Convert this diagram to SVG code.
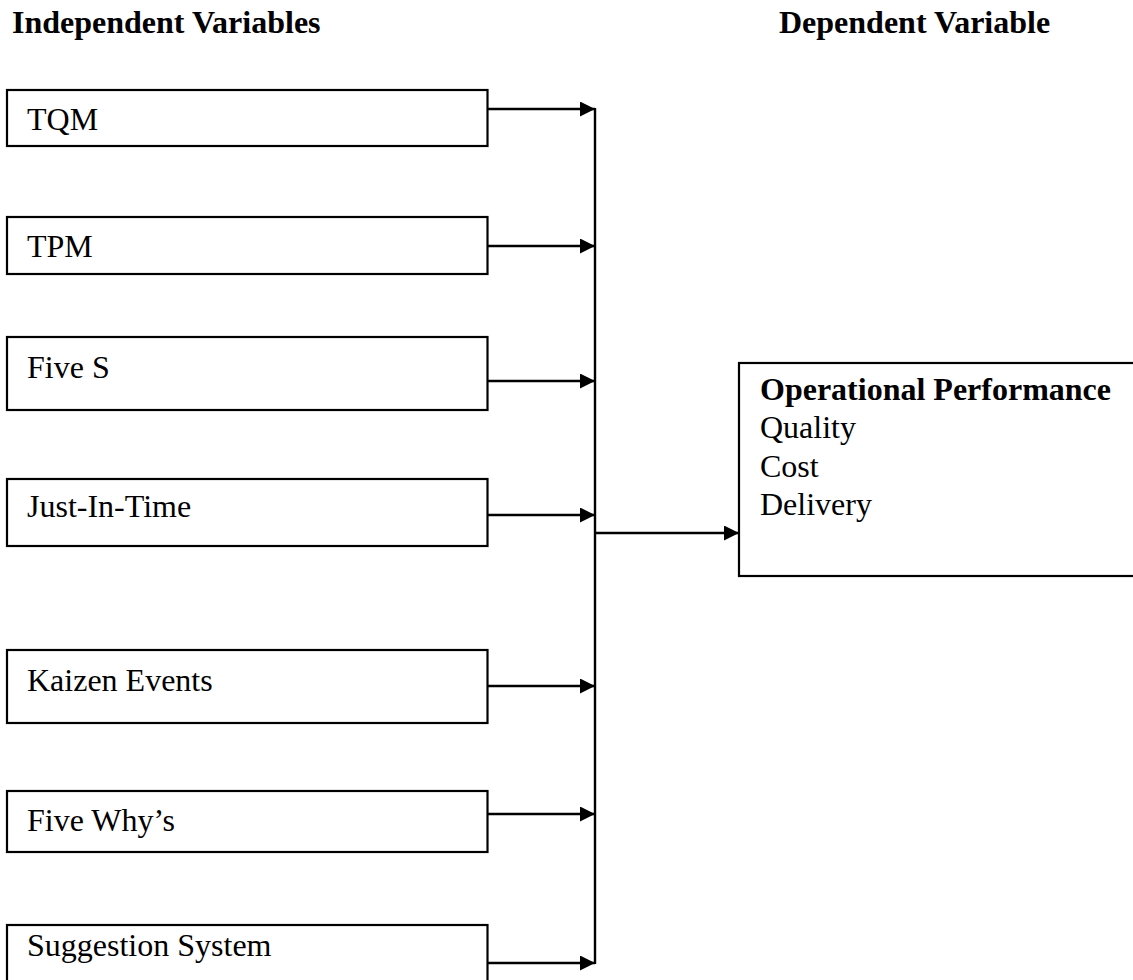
<svg xmlns="http://www.w3.org/2000/svg" width="1133" height="980" viewBox="0 0 1133 980">
  <style>
    .box { fill: #ffffff; stroke: #000000; stroke-width: 2.2; }
    .lbl { font-family: "Liberation Serif", "Times New Roman", serif; font-size: 32px; fill: #000000; }
    .hd { font-family: "Liberation Serif", "Times New Roman", serif; font-size: 32px; font-weight: bold; fill: #000000; }
    .con { stroke: #000000; stroke-width: 2.4; fill: none; }
  </style>
  <defs>
    <marker id="arr" markerUnits="userSpaceOnUse" markerWidth="16" markerHeight="16" refX="15" refY="7.5" orient="auto">
      <path d="M0,0 L15,7.5 L0,15 Z" fill="#000000"/>
    </marker>
  </defs>
  <rect width="1133" height="980" fill="#ffffff"/>

  <text class="hd" x="12" y="33">Independent Variables</text>
  <text class="hd" x="779" y="33">Dependent Variable</text>

  <g id="connectors">
    <line class="con" x1="595" y1="108" x2="595" y2="964"/>
    <line class="con" x1="488" y1="109" x2="595" y2="109" marker-end="url(#arr)"/>
    <line class="con" x1="488" y1="246" x2="595" y2="246" marker-end="url(#arr)"/>
    <line class="con" x1="488" y1="381" x2="595" y2="381" marker-end="url(#arr)"/>
    <line class="con" x1="488" y1="515" x2="595" y2="515" marker-end="url(#arr)"/>
    <line class="con" x1="488" y1="686" x2="595" y2="686" marker-end="url(#arr)"/>
    <line class="con" x1="488" y1="814" x2="595" y2="814" marker-end="url(#arr)"/>
    <line class="con" x1="488" y1="963" x2="595" y2="963" marker-end="url(#arr)"/>
    <line class="con" x1="595" y1="533" x2="739" y2="533" marker-end="url(#arr)"/>
  </g>

  <g id="node-tqm">
    <rect class="box" x="7" y="90" width="480.5" height="56"/>
    <text class="lbl" x="27" y="130">TQM</text>
  </g>
  <g id="node-tpm">
    <rect class="box" x="7" y="217" width="480.5" height="57"/>
    <text class="lbl" x="27" y="257">TPM</text>
  </g>
  <g id="node-fives">
    <rect class="box" x="7" y="337" width="480.5" height="73"/>
    <text class="lbl" x="27" y="378">Five S</text>
  </g>
  <g id="node-jit">
    <rect class="box" x="7" y="479" width="480.5" height="67"/>
    <text class="lbl" x="27" y="517">Just-In-Time</text>
  </g>
  <g id="node-kaizen">
    <rect class="box" x="7" y="650" width="480.5" height="73"/>
    <text class="lbl" x="27" y="691">Kaizen Events</text>
  </g>
  <g id="node-fivewhys">
    <rect class="box" x="7" y="791" width="480.5" height="61"/>
    <text class="lbl" x="27" y="831">Five Why’s</text>
  </g>
  <g id="node-suggestion">
    <rect class="box" x="7" y="925" width="480.5" height="60"/>
    <text class="lbl" x="27" y="956">Suggestion System</text>
  </g>
  <g id="node-operational">
    <rect class="box" x="739" y="363" width="410" height="213"/>
    <text class="hd" x="760" y="400">Operational Performance</text>
    <text class="lbl" x="760" y="438">Quality</text>
    <text class="lbl" x="760" y="477">Cost</text>
    <text class="lbl" x="760" y="515">Delivery</text>
  </g>
</svg>
